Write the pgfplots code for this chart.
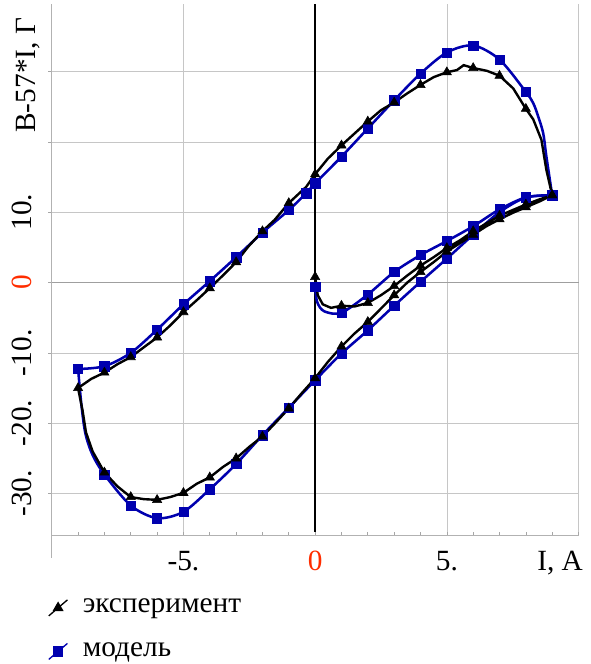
\documentclass[border=0pt]{standalone}
\usepackage{pgfplots}
\usepackage{pgfplotstable}
\pgfplotsset{compat=1.18}
\usepackage{fontspec}
\setmainfont{Liberation Serif}
\definecolor{modelblue}{RGB}{0,0,175}
\definecolor{zerored}{RGB}{255,45,0}

% experiment: x y m (m=1 -> marker)
\pgfplotstableread{
x y m
0 0.8 1
0.1 -1.8 0
0.29 -3.1 0
0.6 -3.6 0
1 -3.3 1
1.5 -3.4 0
2 -2.9 1
2.5 -1.8 0
3 -0.5 1
3.5 1.0 0
4 2.4 1
4.5 3.6 0
5 4.9 1
5.5 6.0 0
6 7.3 1
6.5 8.4 0
7 9.5 1
7.5 10.3 0
8 11.1 1
8.5 11.8 0
9 12.4 1
8.78 16.0 0
8.59 20.3 0
8.28 23.2 0
8 24.7 1
7.52 27.6 0
7 29.4 1
6.52 30.1 0
6 30.5 1
5.64 30.9 0
5.38 30.2 0
5 29.9 1
4.5 29.2 0
4 28.1 1
3.5 26.9 0
3 25.6 1
2.5 24.5 0
2 22.9 1
1.5 21.2 0
1 19.5 1
0.48 17.6 0
0 15.4 1
-0.34 13.6 0
-1 11.3 1
-1.54 8.9 0
-2 7.3 1
-2.54 5.1 0
-3 2.9 1
-3.42 1.3 0
-4 -0.8 1
-4.49 -2.5 0
-5 -4.2 1
-5.5 -6.1 0
-6 -7.8 1
-6.5 -9.2 0
-7 -10.6 1
-7.5 -11.6 0
-8 -12.8 1
-8.5 -13.7 0
-9 -15.0 1
-8.83 -18.2 0
-8.7 -21.3 0
-8.45 -24.0 0
-8 -27.0 1
-7.5 -29.0 0
-7 -30.5 1
-6.5 -30.8 0
-6 -30.9 1
-5.5 -30.5 0
-5 -29.9 1
-4.49 -28.6 0
-4 -27.7 1
-3.49 -26.2 0
-3 -25.0 1
-2.48 -23.3 0
-2 -21.9 1
-1.47 -19.8 0
-1 -17.9 1
-0.5 -15.7 0
0 -13.6 1
0.48 -11.3 0
1 -9.1 1
1.48 -7.3 0
2 -5.6 1
2.5 -3.7 0
3 -1.8 1
3.5 0.0 0
4 1.5 1
4.5 2.9 0
5 4.4 1
5.5 5.6 0
6 6.8 1
6.5 8.0 0
7 9.0 1
7.5 9.9 0
8 10.7 1
8.5 11.5 0
9 12.4 1
}\expdata

% model: initial curve
\pgfplotstableread{
x y m
0 -0.6 1
0.08 -2.8 0
0.35 -4.1 0
1 -4.3 1
2 -1.7 1
3 1.5 1
4 3.9 1
5 5.9 1
6 8.0 1
7 10.4 1
8 12.1 1
9 12.4 1
}\modinit

% model: upper branch
\pgfplotstableread{
x y m
9 12.4 1
8.78 17.9 0
8.66 21.2 0
8.47 23.6 0
8.28 25.5 0
8 27.1 1
7 31.7 1
6 33.7 1
5 32.7 1
4 29.7 1
3 25.9 1
2 21.9 1
1 17.9 1
0 14.1 1
-0.34 12.7 1
-1 10.3 1
-2 7.1 1
-3 3.6 1
-4 0.2 1
-5 -3.1 1
-6 -6.7 1
-7 -10.0 1
-8 -11.9 1
-9 -12.3 1
}\modup

% model: lower branch
\pgfplotstableread{
x y m
-9 -12.3 1
-8.87 -17.5 0
-8.72 -21.5 0
-8.45 -24.5 0
-8 -27.3 1
-7 -31.7 1
-6 -33.5 1
-5 -32.6 1
-4 -29.4 1
-3 -25.8 1
-2 -21.7 1
-1 -17.8 1
0 -13.9 1
1 -10.1 1
2 -6.8 1
3 -3.3 1
4 0.1 1
5 3.4 1
6 6.8 1
7 10.0 1
8 12.1 1
9 12.4 1
}\modlow

\begin{document}
\fontsize{22pt}{26pt}\selectfont
\begin{tikzpicture}
\path[use as bounding box] (0,0) rectangle (443.25pt,498pt);
\begin{axis}[
    at={(38.8pt,96.2pt)}, anchor=south west,
    scale only axis,
    width=395.1pt, height=398.8pt,
    xmin=-10, xmax=10,
    ymin=-36, ymax=39.6,
    axis lines*=left,
    axis line style={gray!60, line width=0.5pt},
    xtick={-10,-5,0,5,10},
    xticklabels={{},-5.,{\color{zerored}0},5.,{}},
    minor x tick num=4,
    ytick={-30,-20,-10,0,10,20,30},
    yticklabels={-30.,-20.,-10.,{\color{zerored}0},10.,{},{}},
    xtick align=inside, ytick align=outside,
    major tick length=2.5pt, minor tick length=2.5pt,
    tick style={gray!70, line width=0.5pt},
    grid=major,
    major grid style={gray!45, line width=0.5pt},
    xticklabel style={anchor=base, inner sep=0pt, yshift=-25.7pt},
    yticklabel style={xshift=-12.5pt, rotate=90, anchor=base, inner sep=0pt},
    legend style={at={(rel axis cs:-0.015,-0.108)}, anchor=north west,
        draw=none, fill=none, row sep=15pt, column sep=9pt,
        font=\fontsize{22pt}{26pt}\selectfont},
    legend cell align=left,
    legend image code/.code={
        \draw[mark repeat=2, mark phase=2, #1]
            plot coordinates {(0pt,-6pt) (7pt,0pt) (14pt,6pt)};
    },
    clip=false,
]
% zero lines
\draw[gray!75, line width=0.6pt] (axis cs:-10,0) -- (axis cs:10,0);
\draw[black, line width=1.1pt] (axis cs:0,-35.4) -- (axis cs:0,39.6);
\draw[gray!60, line width=0.5pt] (axis cs:-10,-36) -- ++(0pt,-17pt);

% model
\addplot[modelblue, line width=1.9pt, smooth, no markers, forget plot] table[x=x, y=y] {\modinit};
\addplot[modelblue, line width=1.9pt, smooth, no markers, forget plot] table[x=x, y=y] {\modup};
\addplot[modelblue, line width=1.9pt, smooth, no markers, forget plot] table[x=x, y=y] {\modlow};
\addplot[only marks, mark=square*, mark size=3.5pt, modelblue, forget plot,
    restrict expr to domain={\thisrow{m}}{0.5:1.5}] table[x=x, y=y] {\modinit};
\addplot[only marks, mark=square*, mark size=3.5pt, modelblue, forget plot,
    restrict expr to domain={\thisrow{m}}{0.5:1.5}] table[x=x, y=y] {\modup};
\addplot[only marks, mark=square*, mark size=3.5pt, modelblue, forget plot,
    restrict expr to domain={\thisrow{m}}{0.5:1.5}] table[x=x, y=y] {\modlow};

% experiment
\addplot[black, line width=1.8pt, sharp plot, no markers, forget plot] table[x=x, y=y] {\expdata};
\addplot[only marks, mark=triangle*, mark size=4pt, black, forget plot,
    restrict expr to domain={\thisrow{m}}{0.5:1.5}] table[x=x, y=y] {\expdata};

\addlegendimage{black, line width=1pt, mark=triangle*, mark size=3.8pt}
\addlegendentry{эксперимент}
\addlegendimage{modelblue, line width=1pt, mark=square*, mark size=3.4pt}
\addlegendentry{модель}

\node[anchor=base, inner sep=0pt] at ([yshift=-25.7pt]axis cs:9.3,-36) {I, A};
\node[rotate=90, anchor=base, inner sep=0pt] at ([xshift=-12.5pt]rel axis cs:0,0.866) {B-57*I, Г};
\end{axis}
\end{tikzpicture}
\end{document}
